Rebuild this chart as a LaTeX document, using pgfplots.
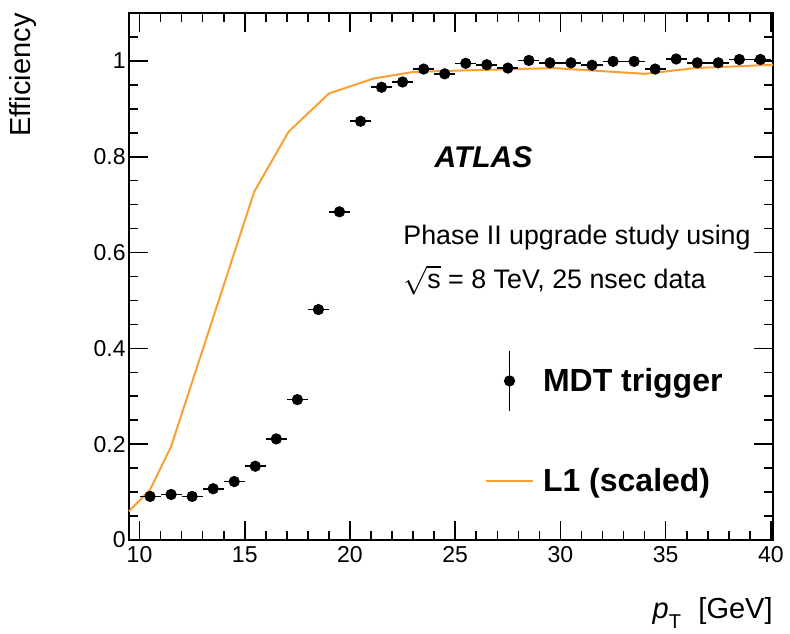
\documentclass[border=0pt]{standalone}
\usepackage{pgfplots}
\pgfplotsset{compat=1.18}
\usepackage{fontspec}
\setmainfont{Liberation Sans}
\definecolor{lorange}{RGB}{250,160,50}

\pgfplotstableread{
x y
10.5 0.091
11.5 0.095
12.5 0.091
13.5 0.107
14.5 0.122
15.5 0.154
16.5 0.211
17.5 0.293
18.5 0.481
19.5 0.685
20.5 0.874
21.5 0.945
22.5 0.956
23.5 0.983
24.5 0.973
25.5 0.995
26.5 0.992
27.5 0.985
28.5 1.001
29.5 0.996
30.5 0.996
31.5 0.991
32.5 0.999
33.5 0.999
34.5 0.983
35.5 1.004
36.5 0.996
37.5 0.996
38.5 1.003
39.5 1.003
}\mdt

\pgfplotstableread{
x y
9.5 0.060
10.5 0.105
11.5 0.195
15.45 0.727
17.08 0.852
19.0 0.932
21.1 0.963
23.0 0.977
25.3 0.980
29.7 0.985
31.5 0.980
34.0 0.973
36.4 0.985
40.1 0.992
}\lone

\begin{document}
\begin{tikzpicture}[x=1pt,y=1pt]
\path[use as bounding box] (-64.5,-46.5) rectangle (330.5,270);
\begin{axis}[
  at={(0,0)}, anchor=south west,
  scale only axis, width=322pt, height=263.5pt,
  xmin=9.5, xmax=40.1, ymin=0, ymax=1.1,
  xtick={10,15,...,40}, minor xtick={10,...,40},
  ytick={0,0.2,0.4,0.6,0.8,1}, minor ytick={0.05,0.1,0.15,0.25,0.3,0.35,0.45,0.5,0.55,0.65,0.7,0.75,0.85,0.9,0.95,1.05},
  tick align=inside,
  major tick length=9.5pt, minor tick length=4.5pt,
  axis line style={line width=0.8pt},
  every tick/.style={black, line width=0.8pt},
  tick label style={font=\fontsize{11.5}{13}\selectfont},
  /pgf/number format/assume math mode=true,
  yticklabel style={inner sep=1.5pt},
  xticklabel style={inner sep=2pt, yshift=-1pt},
  ylabel={Efficiency},
  ylabel style={font=\fontsize{14.5}{17}\selectfont, at={(rel axis cs:0,1)}, anchor=east, inner sep=0pt, yshift=53pt},
  xlabel={\textit{p}\raisebox{-0.65ex}{\fontsize{10}{12}\selectfont T}\hspace{0.6em}[GeV]},
  xlabel style={font=\fontsize{14.5}{17}\selectfont, at={(rel axis cs:1,0)}, anchor=east, inner sep=0pt, yshift=-36.5pt},
  legend style={draw=none, fill=none, at={(rel axis cs:0.5528,0.3605)}, anchor=north west,
    inner sep=0pt, outer sep=0pt, row sep=26pt,
    font=\bfseries\fontsize{16}{19}\selectfont,
    nodes={inner sep=2pt},
    /tikz/every even column/.append style={column sep=6pt}},
  legend cell align=left,
  clip=false,
]
\addplot[lorange, line width=1pt, forget plot] table[x=x,y=y] {\lone};
\addplot[only marks, mark=*, mark size=2.6pt, black, forget plot,
  error bars/.cd, x dir=both, x fixed=0.5, error mark=none,
  error bar style={line width=0.8pt}] table[x=x,y=y] {\mdt};
\addlegendimage{legend image code/.code={\draw[black, line width=0.9pt] (11.75pt,-15pt) -- (11.75pt,15pt); \fill[black] (11.75pt,0pt) circle (2.6pt);}}
\addlegendentry{\hspace{2.5pt}MDT trigger}
\addlegendimage{legend image code/.code={\draw[lorange, line width=1pt] (0pt,0pt) -- (23.5pt,0pt);}}
\addlegendentry{\hspace{2.5pt}L1 (scaled)}
\node[anchor=west, inner sep=0pt] at (axis cs:24.0,0.80) {\fontsize{15}{18}\selectfont\bfseries\itshape ATLAS};
\node[anchor=base west, inner sep=0pt] at (axis cs:22.52,0.616) {\fontsize{13.4}{15}\selectfont Phase II upgrade study using};
\node[anchor=base west, inner sep=0pt] at (axis cs:22.52,0.524) {\fontsize{13.4}{15}\selectfont $\sqrt{\mbox{s}}$ = 8 TeV, 25 nsec data};
\end{axis}
\end{tikzpicture}
\end{document}
